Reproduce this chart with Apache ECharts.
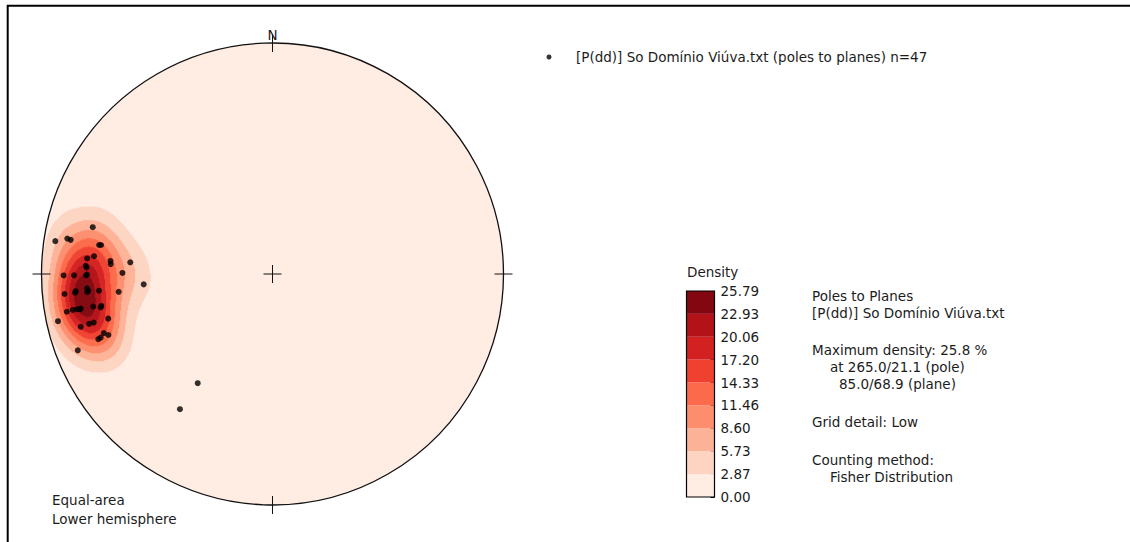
<!DOCTYPE html>
<html>
<head>
<meta charset="utf-8">
<script src="https://cdn.jsdelivr.net/npm/echarts@6/dist/echarts.min.js"></script>
<style>
  html, body { margin: 0; padding: 0; background: #ffffff; }
  #chart { width: 1130px; height: 542px; }
</style>
</head>
<body>
<div id="chart"></div>
<script>
// Poles to planes, "So Domínio Viúva" (n = 47): trend and plunge of each pole, degrees
const poleTrend = [
  284.6, 278.6, 279.8, 279.6, 279.5, 279.6, 274.8, 275.7, 272.5, 274.6,
  273.5, 274.7, 270.4, 269.6, 269.6, 269.6, 265.4, 265.6, 264.4, 264.5,
  264.6, 264.5, 263.4, 259.7, 259.5, 259.6, 259.8, 259.8, 259.6, 257.6,
  254.8, 254.6, 254.8, 254.8, 249.5, 249.7, 250.7, 249.6, 248.6, 214.4,
  214.4, 264.8, 269.8, 265.0, 259.8, 272.0, 259.0
];
const polePlunge = [
  20.7, 5.5, 10.8, 12.4, 24.9, 25.7, 20.6, 23.4, 20.2, 30.3,
  30.5, 38.2, 35.3, 10.5, 15.2, 20.4, 43.4, 20.6, 20.5, 10.5,
  15.3, 25.5, 33.4, 22.2, 25.6, 10.4, 13.2, 15.1, 16.4, 5.5,
  27.2, 15.0, 18.9, 20.9, 20.6, 21.8, 23.7, 25.2, 10.4, 42.2,
  29.8, 21.0, 20.8, 15.6, 16.8, 20.6, 25.2
];
// Contour levels of the density (% of points per 1% area) and their fills
const densityLevels = [0.00, 2.87, 5.73, 8.60, 11.46, 14.33, 17.20, 20.06, 22.93, 25.79];
const levelColors = ['#ffece3', '#fdd4c2', '#fcb297', '#fc8e6e', '#fb6a4a',
                     '#f04030', '#d32020', '#b21218', '#830711'];
const seriesName = '[P(dd)] So Domínio Viúva.txt (poles to planes) n=47';
const infoLines = [
  ['Poles to Planes', 0],
  ['[P(dd)] So Domínio Viúva.txt', 0],
  ['Maximum density: 25.8 %', 0],
  ['at 265.0/21.1 (pole)', 18],
  ['85.0/68.9 (plane)', 27],
  ['Grid detail: Low', 0],
  ['Counting method:', 0],
  ['Fisher Distribution', 18]
];

// ---- layout ----
const CX = 272.5, CY = 274, R = 231;      // net centre and radius (px)
const NET = { left: CX - R, top: CY - R, width: 2 * R, height: 2 * R };
const CB = { left: 686.5, top: 291, width: 28, height: 206 };   // colour bar
const FONT = '"DejaVu Sans", "Liberation Sans", sans-serif';
const FS = 13.5;
const TXT = '#1c1c1c';

// ---- equal-area (Schmidt) lower-hemisphere projection ----
const D2R = Math.PI / 180;
function project(trend, plunge) {
  const r = Math.SQRT2 * Math.sin((90 - plunge) * D2R / 2);
  return [r * Math.sin(trend * D2R), r * Math.cos(trend * D2R)];
}
const polePoints = poleTrend.map((t, i) => project(t, polePlunge[i]));
const poleVectors = poleTrend.map((t, i) => {
  const tr = t * D2R, pl = polePlunge[i] * D2R;
  return [Math.sin(tr) * Math.cos(pl), Math.cos(tr) * Math.cos(pl), Math.sin(pl)];
});

// ---- Fisher-smoothed density (% per 1% area) on the net grid ----
const NCELL = 462;
const KAPPA = 67;
function densityAt(x, y, k) {
  const r2 = x * x + y * y;
  const s = Math.sqrt(2 - r2);
  const vx = x * s, vy = y * s, vz = 1 - r2;
  let d = 0;
  for (const p of poleVectors) d += Math.exp(k * (vx * p[0] + vy * p[1] + vz * p[2] - 1));
  return d * k / poleVectors.length;
}
const cells = [];
for (let i = 0; i < NCELL; i++) {
  const x = -1 + (i + 0.5) * 2 / NCELL;
  for (let j = 0; j < NCELL; j++) {
    const y = -1 + (j + 0.5) * 2 / NCELL;
    if (x * x + y * y > 1) continue;
    const d = densityAt(x, y, KAPPA);
    if (d >= densityLevels[1]) cells.push([i, j, d]);
  }
}
const idx = Array.from({ length: NCELL }, (_, i) => i);

// ---- frame, net outline, cardinal ticks and text ----
const graphics = [];
graphics.push({ type: 'line', z: 60, shape: { x1: 7, y1: 5.8, x2: 1130, y2: 5.8 }, style: { stroke: '#000', lineWidth: 2 } });
graphics.push({ type: 'line', z: 60, shape: { x1: 7.7, y1: 5, x2: 7.7, y2: 542 }, style: { stroke: '#000', lineWidth: 2 } });
graphics.push({ type: 'circle', z: 0, shape: { cx: CX, cy: CY, r: R }, style: { fill: levelColors[0], stroke: 'none' } });
graphics.push({ type: 'circle', z: 50, shape: { cx: CX, cy: CY, r: R }, style: { fill: 'none', stroke: '#111', lineWidth: 1.3 } });
const A = 9;
[[CX, CY, 'h'], [CX, CY, 'v'], [CX, CY - R, 'v'], [CX, CY + R, 'v'], [CX - R, CY, 'h'], [CX + R, CY, 'h']].forEach(([x, y, o]) => {
  graphics.push({
    type: 'line', z: 50,
    shape: o === 'h' ? { x1: x - A, y1: y, x2: x + A, y2: y } : { x1: x, y1: y - A, x2: x, y2: y + A },
    style: { stroke: '#111', lineWidth: 1 }
  });
});
function text(str, x, y, align) {
  graphics.push({
    type: 'text', z: 60, x: x, y: y,
    style: { text: str, fill: TXT, font: FS + 'px ' + FONT, textVerticalAlign: 'middle', textAlign: align || 'left' }
  });
}
text('N', CX, 35, 'center');
text('Equal-area', 52, 500);
text('Lower hemisphere', 52, 519);
text('Density', 687, 272);
const infoY = [296, 313, 350, 367, 384, 422, 460, 477];
infoLines.forEach((l, i) => text(l[0], 812 + l[1], infoY[i]));
graphics.push({ type: 'rect', z: 60, shape: { x: CB.left, y: CB.top, width: CB.width, height: CB.height }, style: { fill: 'none', stroke: '#000', lineWidth: 1.2 } });

// ---- colour bar segments ----
const barSeries = levelColors.map((c, k) => ({
  type: 'bar', xAxisIndex: 2, yAxisIndex: 2, stack: 'cb', barWidth: '100%', silent: true,
  data: [densityLevels[k + 1] - densityLevels[k]], itemStyle: { color: c }
}));

const chart = echarts.init(document.getElementById('chart'), null, { renderer: 'svg' });
chart.setOption({
  animation: false,
  backgroundColor: '#ffffff',
  textStyle: { fontFamily: FONT },
  grid: [
    Object.assign({}, NET),
    Object.assign({}, NET),
    Object.assign({}, CB)
  ],
  xAxis: [
    { gridIndex: 0, type: 'value', min: -1, max: 1, show: false },
    { gridIndex: 1, type: 'category', data: idx, show: false },
    { gridIndex: 2, type: 'category', data: ['density'], show: false }
  ],
  yAxis: [
    { gridIndex: 0, type: 'value', min: -1, max: 1, show: false },
    { gridIndex: 1, type: 'category', data: idx, show: false },
    {
      gridIndex: 2, type: 'value', min: 0, max: densityLevels[densityLevels.length - 1], position: 'right',
      axisLine: { show: false }, splitLine: { show: false },
      axisTick: { show: true, inside: true, length: 4, lineStyle: { color: '#000' }, customValues: densityLevels },
      axisLabel: { show: true, margin: 6, color: TXT, fontSize: FS, fontFamily: FONT,
        customValues: densityLevels, formatter: v => v.toFixed(2) }
    }
  ],
  visualMap: {
    show: false, type: 'piecewise', seriesIndex: 0, dimension: 2,
    pieces: levelColors.slice(1).map((c, k) => k === levelColors.length - 2
      ? { gte: densityLevels[k + 1], color: c }
      : { gte: densityLevels[k + 1], lt: densityLevels[k + 2], color: c })
  },
  legend: {
    left: 546.5, top: 50, padding: 0, selectedMode: false,
    itemWidth: 44, itemHeight: 5,
    textStyle: { color: TXT, fontSize: FS, fontFamily: FONT },
    data: [{ name: seriesName, icon: 'circle' }]
  },
  graphic: { elements: graphics },
  series: [
    {
      type: 'heatmap', xAxisIndex: 1, yAxisIndex: 1, data: cells,
      progressive: 0, silent: true, z: 2
    },
    {
      name: seriesName, type: 'scatter', xAxisIndex: 0, yAxisIndex: 0,
      data: polePoints, symbol: 'circle', symbolSize: 6, silent: true, z: 5,
      itemStyle: { color: '#000' }
    }
  ].concat(barSeries)
});
</script>
</body>
</html>
